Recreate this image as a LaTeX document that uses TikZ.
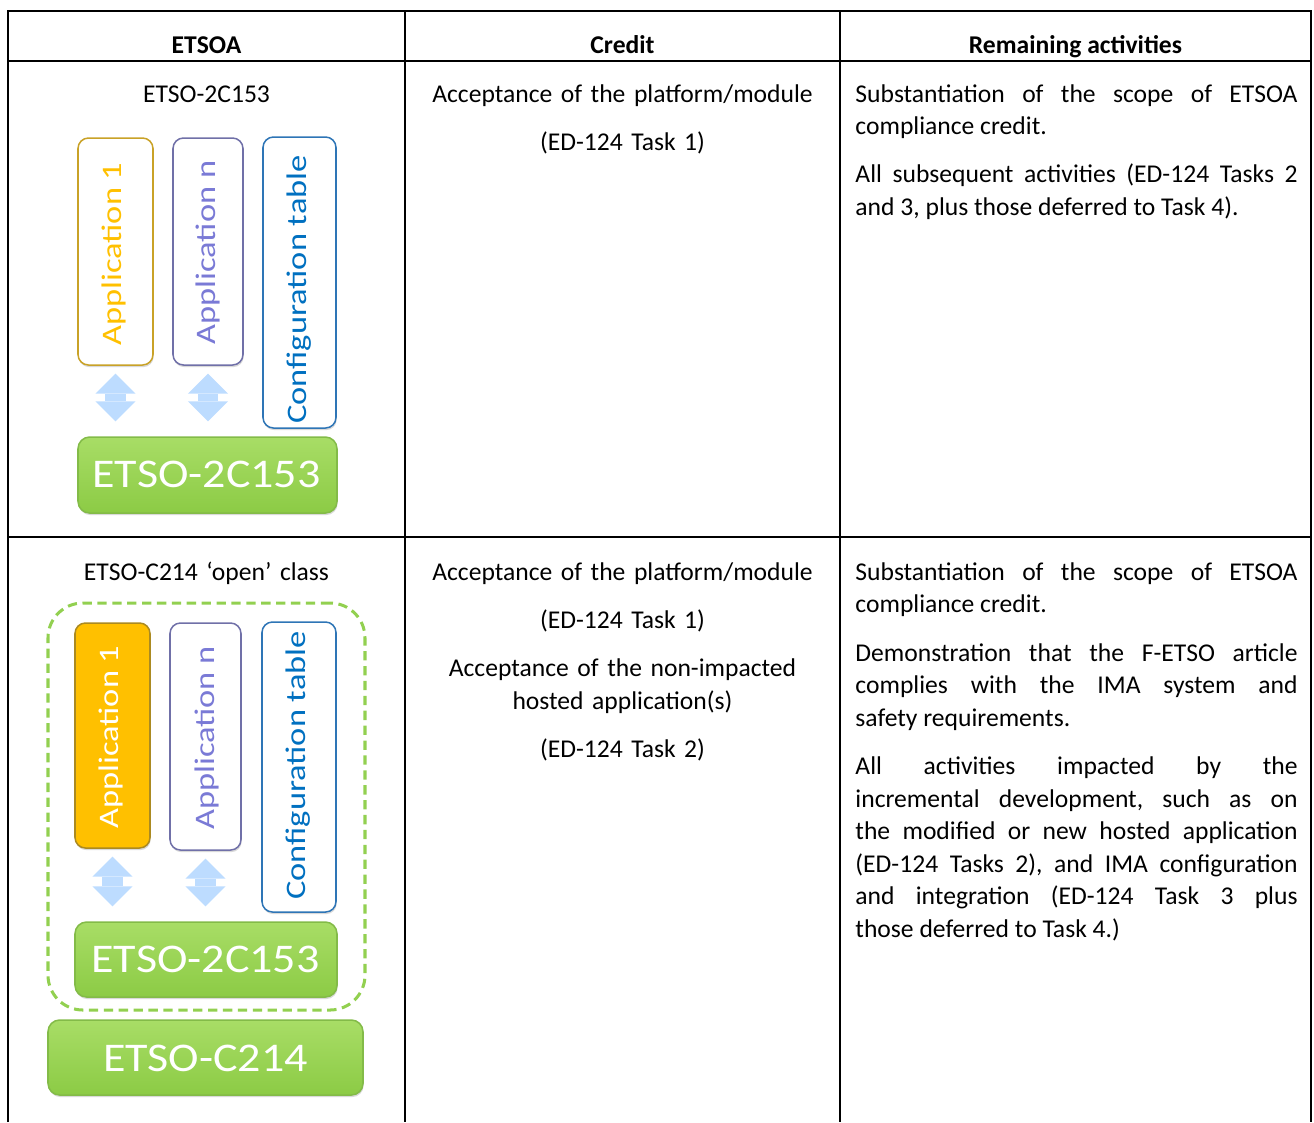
\documentclass[tikz,border=0pt]{standalone}
\usepackage{fontspec}
\setmainfont{Carlito}
\usepackage{xcolor}
\usepackage{tikz}
\usetikzlibrary{arrows.meta,fit,shadows}

\definecolor{appgold}{HTML}{FFC000}
\definecolor{goldline}{HTML}{C9A227}
\definecolor{appviolet}{HTML}{7A7AD6}
\definecolor{violetline}{HTML}{7070A8}
\definecolor{cfgblue}{HTML}{0070C0}
\definecolor{cfgline}{HTML}{2E75B6}
\definecolor{greentop}{HTML}{A8DD66}
\definecolor{greenbot}{HTML}{8CCB45}
\definecolor{greenline}{HTML}{92D050}
\definecolor{arrowblue}{HTML}{BDDCFF}

\tikzset{
  gridline/.style={line width=0.86pt},
  headtext/.style={font=\fontsize{11}{14}\selectfont\bfseries, anchor=base, inner sep=0pt},
  celltext/.style={font=\fontsize{11}{14}\selectfont, anchor=base, inner sep=0pt, text width=180pt, align=center},
  remtext/.style={font=\fontsize{11}{14}\selectfont, anchor=base west, inner sep=0pt, text width=190pt, align=justify,
    execute at begin node={\frenchspacing\hyphenpenalty=10000\exhyphenpenalty=10000\tolerance=10000\setlength{\parskip}{6.8pt}}},
  boxbase/.style={rounded corners=4.5pt, inner sep=0pt, line width=0.65pt, fill=white,
    drop shadow={shadow xshift=0.3pt, shadow yshift=-0.9pt, opacity=0.3}},
  appbox/.style={boxbase, draw=#1},
  apptext/.style={font=\fontsize{14.8}{16}\selectfont, text=#1, rotate=90, yscale=0.82, inner sep=0pt},
  platbox/.style={boxbase, draw=greenline!90!black, top color=greentop, bottom color=greenbot, rounded corners=5pt},
  plattext/.style={font=\fontsize{17.5}{20}\selectfont, text=white, xscale=1.13, inner sep=0pt},
  groupbox/.style={draw=greenline, line width=1.3pt, dash pattern=on 4pt off 2.4pt, rounded corners=15pt, inner sep=0pt},
  flowarrow/.style={draw=arrowblue, line width=9pt,
    {Triangle[width=17.2pt,length=8.6pt,line width=0pt]}-{Triangle[width=17.2pt,length=8.6pt,line width=0pt]},
    shorten <=3.4pt, shorten >=6.4pt}
}

\begin{document}
\begin{tikzpicture}[x=0.4297pt, y=-0.4297pt]
  \useasboundingbox (0,0) rectangle (1314,1122);
  \draw[gridline] (8,1122) -- (8,11) -- (1311,11) -- (1311,1122);
  \draw[gridline] (405,11) -- (405,1122);
  \draw[gridline] (840,11) -- (840,1122);
  \draw[gridline] (8,61) -- (1311,61);
  \draw[gridline] (8,537) -- (1311,537);

  \node[headtext] (hdetsoa) at (206.5,53) {ETSOA};
  \node[headtext] (hdcredit) at (622.5,53) {Credit};
  \node[headtext] (hdremain) at (1075.5,53) {Remaining activities};

  \node[celltext] (etsoaa) at (206.5,102) {ETSO-2C153};
  \node[appbox=goldline, fit={(78,138) (153,365)}] (appa) {};
  \node[appbox=violetline, fit={(173,138) (243,365)}] (appb) {};
  \node[appbox=cfgline, fit={(263,137) (336,428)}] (cfga) {};
  \node[platbox, fit={(78,437) (337,513)}] (plata) {};
  \node[apptext=appgold] (appatext) at (114,254) {Application 1};
  \node[apptext=appviolet] (appbtext) at (208,252.5) {Application n};
  \node[apptext=cfgblue] (cfgatext) at (299,289.5) {Configuration table};
  \node[plattext] (platatext) at (206.5,474) {ETSO-2C153};
  \draw[flowarrow] (appa.south) -- (appa.south |- plata.north);
  \draw[flowarrow] (appb.south) -- (appb.south |- plata.north);

  \node[celltext] (credita) at (622.5,102) {Acceptance of the platform/module\\[6.8pt](ED-124 Task 1)};
  \node[remtext] (remaina) at (855,102) {Substantiation of the scope of ETSOA\linebreak compliance credit.\par
    All subsequent activities (ED-124 Tasks 2\linebreak and 3, plus those deferred to Task 4).};

  \node[celltext] (etsoab) at (206.5,580) {ETSO-C214 ‘open’ class};
  \node[groupbox, fit={(48,603) (365,1010)}] (grp) {};
  \node[appbox=goldline!85!black, fill=appgold, fit={(75,623) (150,848)}] (appc) {};
  \node[appbox=violetline, fit={(170,623) (241,850)}] (appd) {};
  \node[appbox=cfgline, fit={(262,622) (336,912)}] (cfgb) {};
  \node[platbox, fit={(75,922) (337,997)}] (platb) {};
  \node[platbox, fit={(48,1020) (363,1095)}] (platc) {};
  \node[apptext=white] (appctext) at (111,737) {Application 1};
  \node[apptext=appviolet] (appdtext) at (206.5,738) {Application n};
  \node[apptext=cfgblue] (cfgbtext) at (298,765.5) {Configuration table};
  \node[plattext] (platbtext) at (205.5,959) {ETSO-2C153};
  \node[plattext] (platctext) at (205.5,1058) {ETSO-C214};
  \draw[flowarrow] (appc.south) -- (appc.south |- platb.north);
  \draw[flowarrow] (appd.south) -- (appd.south |- platb.north);

  \node[celltext] (creditb) at (622.5,580) {Acceptance of the platform/module\\[6.8pt](ED-124 Task 1)\\[6.8pt]Acceptance of the non-impacted\\hosted application(s)\\[6.8pt](ED-124 Task 2)};
  \node[remtext] (remainb) at (855,580) {Substantiation of the scope of ETSOA\linebreak compliance credit.\par
    Demonstration that the F-ETSO article\linebreak complies with the IMA system and\linebreak safety requirements.\par
    All activities impacted by the\linebreak incremental development, such as on\linebreak the modified or new hosted application\linebreak (ED-124 Tasks 2), and IMA configuration\linebreak and integration (ED-124 Task 3 plus\linebreak those deferred to Task 4.)};
\end{tikzpicture}
\end{document}
